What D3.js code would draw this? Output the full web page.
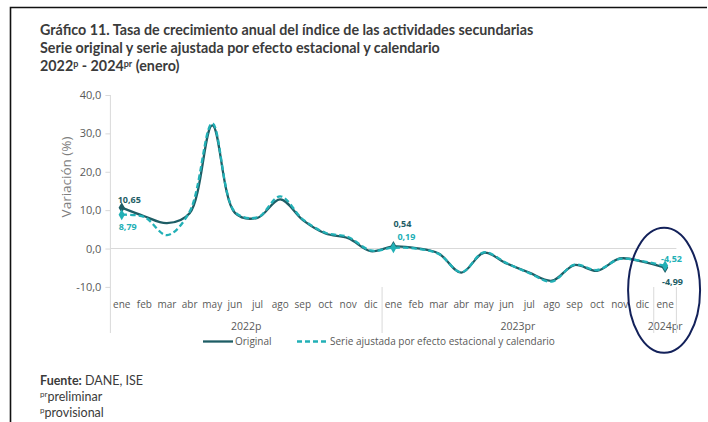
<!DOCTYPE html>
<html>
<head>
<meta charset="utf-8">
<script src="https://cdn.jsdelivr.net/npm/d3@7/dist/d3.min.js"></script>
<style>
  html, body { margin: 0; padding: 0; background: #fff; }
  svg { display: block; }
</style>
</head>
<body>
<svg id="chart" width="708" height="422"></svg>
<script>
// Monthly labels, Jan 2022 – Jan 2024
const months = ["ene","feb","mar","abr","may","jun","jul","ago","sep","oct","nov","dic",
                "ene","feb","mar","abr","may","jun","jul","ago","sep","oct","nov","dic",
                "ene"];
const yearLabels = ["2022p", "2023pr", "2024pr"];
const yearLengths = [12, 12, 1];

// Annual growth rate (%), original series
const original = [10.65, 8.4, 6.6, 9.2, 32.1, 9.3, 8.0, 12.8, 7.4, 3.9, 2.7, -0.7,
                  0.54, 0.1, -1.3, -6.3, -1.1, -3.9, -6.3, -8.4, -4.3, -5.8, -2.6, -3.4,
                  -4.99];
// Seasonally and calendar adjusted series
const adjusted = [8.79, 8.2, 3.5, 9.6, 32.6, 9.5, 8.1, 13.6, 7.6, 4.1, 3.0, -0.5,
                  0.19, 0.0, -1.4, -6.2, -1.0, -3.8, -6.4, -8.6, -4.2, -5.6, -2.7, -3.3,
                  -4.52];
// Points carrying a marker and a value label
const labelled = [0, 12, 24];

const yTicks = [-10, 0, 10, 20, 30, 40];

const colOrig = "#1e5d65";
const colAdj = "#22b0b6";
const textCol = "#595959";

const svg = d3.select("#chart");
const locale = d3.formatLocale({decimal: ",", thousands: ".", grouping: [3], currency: ["", ""], minus: "-"});
const fmt1 = locale.format(".1f");
const fmt2 = locale.format(".2f");

// Frame
svg.append("path")
  .attr("d", "M10.5,422 V7.5 H707")
  .attr("fill", "none").attr("stroke", "#111").attr("stroke-width", 1.6);

// Title
const title = svg.append("g")
  .attr("font-family", "Lato, 'Open Sans', sans-serif")
  .attr("font-weight", "bold").attr("font-size", 14.3).attr("fill", "#3b3b3b");
title.append("text").attr("x", 40).attr("y", 35)
  .text("Gráfico 11. Tasa de crecimiento anual del índice de las actividades secundarias");
title.append("text").attr("x", 40).attr("y", 53)
  .text("Serie original y serie ajustada por efecto estacional y calendario");
const t3 = title.append("text").attr("x", 40).attr("y", 71);
t3.append("tspan").text("2022");
t3.append("tspan").attr("font-size", 9).attr("dy", -4.5).text("p");
t3.append("tspan").attr("dy", 4.5).text(" - 2024");
t3.append("tspan").attr("font-size", 9).attr("dy", -4.5).text("pr");
t3.append("tspan").attr("dy", 4.5).text(" (enero)");

// Scales
const x = d3.scaleBand().domain(d3.range(months.length)).range([110.4, 676.4]);
const xc = i => x(i) + x.bandwidth() / 2;
const y = d3.scaleLinear().domain([-10, 40]).range([286.9, 95]);

// Zero gridline
svg.append("line")
  .attr("x1", x.range()[0]).attr("x2", x.range()[1])
  .attr("y1", y(0)).attr("y2", y(0))
  .attr("stroke", "#d9d9d9").attr("stroke-width", 1);

// Y axis
const yAxis = svg.append("g")
  .attr("transform", `translate(${x.range()[0]},0)`)
  .call(d3.axisLeft(y).tickValues(yTicks).tickSize(5).tickPadding(4).tickFormat(fmt1));
yAxis.select(".domain").remove();
yAxis.selectAll(".tick line").attr("stroke", "#d9d9d9");
yAxis.selectAll(".tick text")
  .attr("font-family", "'Open Sans', sans-serif").attr("font-size", 11).attr("fill", textCol);
svg.append("line")
  .attr("x1", x.range()[0]).attr("x2", x.range()[0])
  .attr("y1", y(40)).attr("y2", 333)
  .attr("stroke", "#d9d9d9").attr("stroke-width", 1);

svg.append("text")
  .attr("transform", `translate(71,${(y(40) + y(-10)) / 2 - 14}) rotate(-90)`)
  .attr("text-anchor", "middle")
  .attr("font-family", "'Open Sans', sans-serif").attr("font-size", 13.5)
  .attr("fill", "#7f7f7f")
  .text("Variación (%)");

// Category axis: months and year groups
const cat = svg.append("g")
  .attr("font-family", "'Open Sans', sans-serif").attr("fill", textCol);
cat.selectAll("text.m").data(months).join("text")
  .attr("class", "m")
  .attr("x", (d, i) => xc(i)).attr("y", 307.5)
  .attr("text-anchor", "middle").attr("font-size", 10)
  .text(d => d);

let start = 0;
yearLabels.forEach((lab, k) => {
  const n = yearLengths[k];
  const x0 = x(start), x1 = x(start + n - 1) + x.bandwidth();
  cat.append("text")
    .attr("x", (x0 + x1) / 2).attr("y", 330)
    .attr("text-anchor", "middle").attr("font-size", 10.5)
    .text(lab);
  // group separator on the right edge
  svg.append("line")
    .attr("x1", x1).attr("x2", x1).attr("y1", 287).attr("y2", 333)
    .attr("stroke", "#d9d9d9").attr("stroke-width", 1);
  start += n;
});

// Lines
const line = d3.line()
  .x((d, i) => xc(i)).y(d => y(d))
  .curve(d3.curveCatmullRom.alpha(0.5));

svg.append("path").datum(original)
  .attr("d", line).attr("fill", "none")
  .attr("stroke", colOrig).attr("stroke-width", 2.3);
svg.append("path").datum(adjusted)
  .attr("d", line).attr("fill", "none")
  .attr("stroke", colAdj).attr("stroke-width", 2.3)
  .attr("stroke-dasharray", "5.5,3");

// Markers
const diamond = d3.symbol().type(d3.symbolDiamond).size(34);
[[original, colOrig], [adjusted, colAdj]].forEach(([ser, col]) => {
  svg.selectAll(null).data(labelled).join("path")
    .attr("d", diamond)
    .attr("transform", i => `translate(${xc(i)},${y(ser[i])})`)
    .attr("fill", col);
});

// Value labels
const lbl = svg.append("g")
  .attr("font-family", "'Open Sans', sans-serif").attr("font-size", 9).attr("font-weight", "bold");
// first point
lbl.append("text").attr("x", xc(0) - 4).attr("y", y(original[0]) - 5)
  .attr("fill", colOrig).text(fmt2(original[0]));
lbl.append("text").attr("x", xc(0) - 3).attr("y", y(adjusted[0]) + 15)
  .attr("fill", colAdj).text(fmt2(adjusted[0]));
// Jan 2023
lbl.append("text").attr("x", xc(12)).attr("y", y(original[12]) - 19)
  .attr("fill", colOrig).text(fmt2(original[12]));
lbl.append("text").attr("x", xc(12) + 4).attr("y", y(adjusted[12]) - 8)
  .attr("fill", colAdj).text(fmt2(adjusted[12]));
// Jan 2024
lbl.append("text").attr("x", xc(24) - 4).attr("y", y(adjusted[24]) - 4)
  .attr("fill", colAdj).text(fmt2(adjusted[24]));
lbl.append("text").attr("x", xc(24) - 3).attr("y", y(original[24]) + 17)
  .attr("fill", colOrig).text(fmt2(original[24]));

// Legend
const leg = svg.append("g")
  .attr("font-family", "'Open Sans', sans-serif").attr("font-size", 10).attr("fill", textCol);
leg.append("line").attr("x1", 203).attr("x2", 233).attr("y1", 341.5).attr("y2", 341.5)
  .attr("stroke", colOrig).attr("stroke-width", 2.3);
leg.append("text").attr("x", 235).attr("y", 345).text("Original");
leg.append("line").attr("x1", 297).attr("x2", 327).attr("y1", 341.5).attr("y2", 341.5)
  .attr("stroke", colAdj).attr("stroke-width", 2.3).attr("stroke-dasharray", "5,3");
leg.append("text").attr("x", 330).attr("y", 345)
  .text("Serie ajustada por efecto estacional y calendario");

// Highlight around the latest observation
svg.append("ellipse")
  .attr("cx", xc(24) - 1).attr("cy", y(-10.9))
  .attr("rx", 36).attr("ry", 62.5)
  .attr("fill", "none").attr("stroke", "#13215a").attr("stroke-width", 2);

// Source notes
const foot = svg.append("g")
  .attr("font-family", "Lato, 'Open Sans', sans-serif").attr("font-size", 12.5).attr("fill", "#3b3b3b");
const f1 = foot.append("text").attr("x", 40).attr("y", 385);
f1.append("tspan").attr("font-weight", "bold").text("Fuente:");
f1.append("tspan").text(" DANE, ISE");
const f2 = foot.append("text").attr("x", 40).attr("y", 401);
f2.append("tspan").attr("font-size", 8).attr("dy", -4).text("pr");
f2.append("tspan").attr("dy", 4).text("preliminar");
const f3 = foot.append("text").attr("x", 40).attr("y", 417);
f3.append("tspan").attr("font-size", 8).attr("dy", -4).text("p");
f3.append("tspan").attr("dy", 4).text("provisional");
</script>
</body>
</html>
